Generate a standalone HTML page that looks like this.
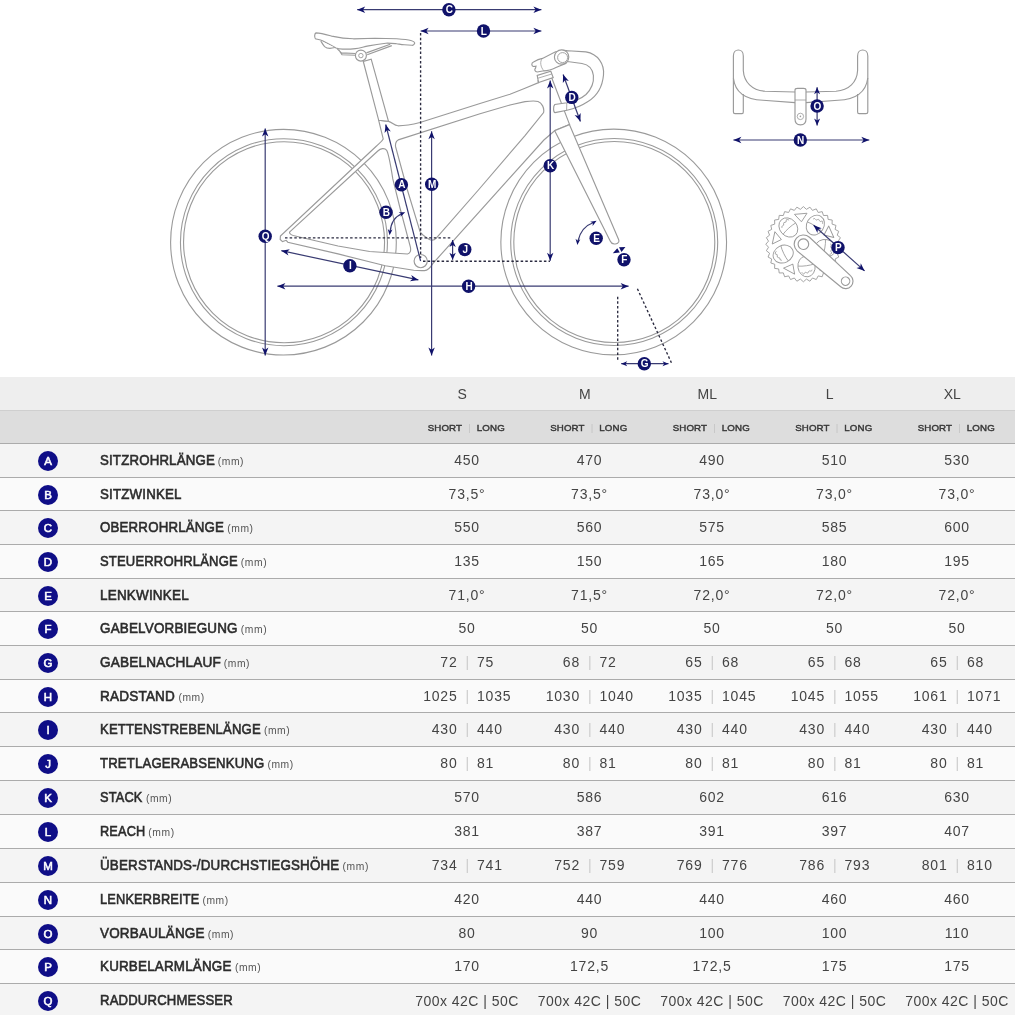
<!DOCTYPE html>
<html><head><meta charset="utf-8">
<style>
html,body{margin:0;padding:0;background:#fff;}
body{width:1015px;height:1015px;overflow:hidden;position:relative;font-family:"Liberation Sans",Arial,sans-serif;}
#bike{position:absolute;left:0;top:0;width:1015px;height:377px;}
.h1{position:absolute;left:0;top:377px;width:1015px;height:33px;background:#eeeeee;}
.h2{position:absolute;left:0;top:410px;width:1015px;background:#dddddd;border-top:1px solid #cfcfcf;box-sizing:border-box;height:33px;}
.sz{position:absolute;top:385px;width:122.5px;text-align:center;font-size:14px;color:#444;line-height:18px;}
.sl{position:absolute;top:421.5px;width:122.5px;text-align:center;font-size:9.7px;font-weight:normal;-webkit-text-stroke:0.45px #383838;color:#383838;letter-spacing:0.15px;line-height:12px;}
.sl .p{color:#c4c4c4;-webkit-text-stroke:0;font-weight:normal;margin:0 6px;}
.row{position:absolute;left:0;width:1015px;border-top:1px solid #ababab;box-sizing:border-box;}
.odd{background:#f4f4f4;}
.even{background:#fafafa;}
.dot{position:absolute;left:38px;top:7px;width:20px;height:20px;border-radius:50%;background:#0f0e87;color:#fff;font-size:11.5px;font-weight:normal;-webkit-text-stroke:0.55px #fff;text-align:center;line-height:20px;}
.lab{position:absolute;left:99.8px;top:7px;font-size:14.5px;font-weight:normal;-webkit-text-stroke:0.6px #2c2c2c;color:#2c2c2c;letter-spacing:0.2px;line-height:18px;white-space:nowrap;transform-origin:0 0;}
.mm{position:absolute;top:8.5px;font-size:10.3px;letter-spacing:0.6px;color:#555;line-height:18px;white-space:nowrap;}
.v{position:absolute;top:7px;letter-spacing:0.8px;width:122.5px;text-align:center;font-size:14px;color:#444;line-height:18px;white-space:nowrap;}
.v2{position:absolute;top:7px;letter-spacing:0.8px;width:122.5px;height:18px;font-size:14px;color:#444;line-height:18px;}
.v2 b{font-weight:normal;position:absolute;top:0;}
.v2 .a{right:70px;}
.v2 .c{left:72px;}
.v2 .p{position:absolute;left:60.5px;top:0;font-style:normal;color:#ccc;}
</style></head><body>
<svg id="bike" width="1015" height="377" viewBox="0 0 1015 377">
<g fill="none" stroke="#9a9a9a" stroke-width="1.1">
<circle cx="283.45" cy="242.2" r="112.85"/>
<circle cx="283.95" cy="242.2" r="103.5"/>
<circle cx="284.05" cy="242.2" r="100.5"/>
<circle cx="613.7" cy="242.0" r="112.85"/>
<circle cx="614.2" cy="242.0" r="103.5"/>
<circle cx="614.3000000000001" cy="242.0" r="100.5"/>
</g>
<path d="M378.7,120.3 L388.5,121.4 C392,122 394,125.5 398,125.8 C405,125.8 412,124.6 420,122.5 L480,103.5 L510,94.2 L525,88.2 L538.6,82.6 L538,80.8 L551.3,76.8 L569.6,124.6 L554.6,130.8 L543.9,140 L432.8,263.6 C430.5,267.5 428.5,270.4 424.5,270.6 C420,270.7 417,270.6 413.7,270.3 L385.3,265.7 L338,253.9 L287.8,242.2 L286.2,240.3 L282.5,241.6 L280.2,239.5 L280.4,236 L376.5,146 C379,143.5 382,141.5 383.2,138.9 Z M398.2,139.9 L480,113.8 L510,105 L525,101.6 C530,101 535,100.6 538,101.5 C542,103 544.5,108 543.6,112.5 L525,135.6 L478.4,190 L436.5,237.8 C434,240.5 431.5,240.6 429.5,239.5 C423,235.5 420.5,233 419.9,231.2 L407.4,190 L395.5,146.4 C395.3,143 396,141 398.2,139.9 Z M289.5,232.2 L377.8,151 C380.5,148.5 384.5,147.5 386.5,150.2 C388,152 389.5,158 392.8,178.9 L400,208 L410.4,247.2 C411,250.5 410.5,253.5 407.5,254 L369.6,251.5 L338,246 L295.2,236 C292,235.3 289.6,234.6 289.5,232.2 Z" fill="#fff" fill-rule="evenodd" stroke="#9a9a9a" stroke-width="1.15"/>
<circle cx="420.7" cy="261.1" r="6.6" fill="#fff" stroke="#9a9a9a" stroke-width="1.15"/>
<path d="M554.6,130.6 L610.2,241 C611.5,244.5 617,245 618.6,242.3 C619.2,241.2 619,240.3 618.6,239.4 L569.4,124.6 Z" fill="#fff" stroke="#9a9a9a" stroke-width="1.15"/>
<path d="M363.3,61.5 L378.7,120.3 L388.5,121.4 L371.2,59.2 Z" fill="#fff" stroke="#9a9a9a" stroke-width="1.15"/>
<path d="M366.4,52.9 L390.2,44.3 M367.2,54.8 L391.8,45.6" fill="none" stroke="#9a9a9a" stroke-width="1.15"/>
<path d="M316,32.9 C321,33.2 326,34.6 331.7,36.1 C339,37.6 346,38.6 353.4,38.8 L375,38.3 L396.7,38.8 C403,39.3 408,39.8 410.8,40.5 C413.5,41.2 415.2,42.5 414.6,43.6 C414,45 412.5,45.4 411.9,45.3 L404.3,44.8 C401,44.6 399,44 396.7,43.7 C393,43.4 389,43 385.9,43.2 C379,44 373,45 368.5,45.9 C363,47 359,48.2 355.5,48.6 C351,49.1 346,49.2 342.5,49.1 C340,49 337.5,48.6 336,48 C331,45.5 327,43 323,41 C320,39.8 317,39.3 315.4,38.8 C314.2,37 314.5,33.5 316,32.9 Z" fill="#fff" stroke="#9a9a9a" stroke-width="1.15"/>
<path d="M320.8,41 C322,43 323,45 324.6,46.6 C326.5,48.2 330,48.9 334.9,47.5" fill="#fff" stroke="#9a9a9a" stroke-width="1.15"/>
<path d="M337.1,48.6 L341.4,52.9 L355.5,53.5 M338.6,49.6 L342,54.8 L356,55.2" fill="none" stroke="#9a9a9a" stroke-width="1.15"/>
<circle cx="360.9" cy="55.6" r="5.5" fill="#fff" stroke="#9a9a9a" stroke-width="1.15"/>
<circle cx="360.9" cy="55.6" r="2.2" fill="#fff" stroke="#9a9a9a" stroke-width="0.9"/>
<path d="M538.6,82.6 L537.2,75.5 L550.8,71.2 L553.2,77.6 Z" fill="#fff" stroke="#9a9a9a" stroke-width="1.15"/>
<path d="M537.6,78.3 L551.8,74" fill="none" stroke="#9a9a9a" stroke-width="0.8"/>
<path d="M533.5,62 C531,63 531.5,66 533.5,66.5 L536,66.2 L535.5,68.3 C534,69.5 535,72 537.2,72 L544,70.8 C548,70.8 552,69.5 556,67.5 L566,63.4 L563,51.5 L555.5,51.8 L542.5,58.4 C539,59 536,60.5 533.5,62 Z" fill="#fff" stroke="#9a9a9a" stroke-width="1.15"/>
<path d="M542.5,58.4 C539.5,61 540.5,67.5 544,70.8" fill="none" stroke="#9a9a9a" stroke-width="0.8"/>
<path d="M558,51.5 C562,49.5 566,50.8 568,50.8 L585.9,51.9 C598,54 604.5,64 603.5,75 C602.5,86 597,96 588,101.5 C582,105.5 575,108.5 567,110.2 L555,112.6 C553.3,112.6 553,106 554.8,104.5 L567,102.8 C575,101 582,98 586,94.5 C591,89.5 594,82 593.4,75.5 C592.5,68.5 588,64.5 582,63.5 L567.4,61.5 C563,64.5 557,62.5 556,57.5 C555.5,55 556.5,52.5 558,51.5 Z" fill="#fff" stroke="#9a9a9a" stroke-width="1.15"/>
<circle cx="561.6" cy="57" r="7.2" fill="#fff" stroke="#9a9a9a" stroke-width="1.15"/>
<circle cx="562.6" cy="57.6" r="5" fill="#fff" stroke="#9a9a9a" stroke-width="0.9"/>
<path d="M566.8,103 L566.6,110.4" fill="none" stroke="#9a9a9a" stroke-width="0.8"/>
<path d="M733.4,56 C733.4,48 743.3,48 743.3,56 L743.3,70.5 C744,82 752,90.5 765,91.2 L795,92 L806,92 L836,91.2 C849,90.5 857,82 857.6,70.5 L857.6,56 C857.6,48 867.8,48 867.8,56 L867.8,78 C866,92 856,99.6 838,100.2 L806,102.6 L795,102.6 L763,100.2 C745,99.6 735,92 733.4,78 Z" fill="#fff" stroke="#9a9a9a" stroke-width="1.15"/>
<path d="M733.4,78 L733.4,112 C733.4,113.3 734,113.6 735,113.6 L742,113.6 C743,113.6 743.3,113 743.3,112 L743.3,94" fill="none" stroke="#9a9a9a" stroke-width="1.15"/>
<path d="M867.8,78 L867.8,112 C867.8,113.3 867,113.6 866,113.6 L859,113.6 C858,113.6 857.6,113 857.6,112 L857.6,94" fill="none" stroke="#9a9a9a" stroke-width="1.15"/>
<path d="M795,90 C795,88.5 796,88.3 797.5,88.3 L803.5,88.3 C805,88.3 806,88.5 806,90 L806,119 C806,123 803.5,124.8 800.5,124.8 C797.5,124.8 795,123 795,119 Z" fill="#fff" stroke="#9a9a9a" stroke-width="1.15"/>
<path d="M795,100 L806,100" fill="none" stroke="#9a9a9a" stroke-width="0.8"/>
<circle cx="800.4" cy="116.4" r="3.2" fill="#fff" stroke="#9a9a9a" stroke-width="0.8"/>
<circle cx="800.4" cy="116.4" r="0.8" fill="#9a9a9a"/>
<path d="M841.00,244.20 L838.27,247.25 L840.43,250.73 L837.21,253.26 L838.73,257.06 L835.12,258.99 L835.96,263.00 L832.07,264.28 L832.20,268.37 L828.15,268.95 L827.57,273.00 L823.48,272.87 L822.20,276.76 L818.19,275.92 L816.26,279.53 L812.46,278.01 L809.93,281.23 L806.45,279.07 L803.40,281.80 L800.35,279.07 L796.87,281.23 L794.34,278.01 L790.54,279.53 L788.61,275.92 L784.60,276.76 L783.32,272.87 L779.23,273.00 L778.65,268.95 L774.60,268.37 L774.73,264.28 L770.84,263.00 L771.68,258.99 L768.07,257.06 L769.59,253.26 L766.37,250.73 L768.53,247.25 L765.80,244.20 L768.53,241.15 L766.37,237.67 L769.59,235.14 L768.07,231.34 L771.68,229.41 L770.84,225.40 L774.73,224.12 L774.60,220.03 L778.65,219.45 L779.23,215.40 L783.32,215.53 L784.60,211.64 L788.61,212.48 L790.54,208.87 L794.34,210.39 L796.87,207.17 L800.35,209.33 L803.40,206.60 L806.45,209.33 L809.93,207.17 L812.46,210.39 L816.26,208.87 L818.19,212.48 L822.20,211.64 L823.48,215.53 L827.57,215.40 L828.15,219.45 L832.20,220.03 L832.07,224.12 L835.96,225.40 L835.12,229.41 L838.73,231.34 L837.21,235.14 L840.43,237.67 L838.27,241.15 Z" fill="#fff" stroke="#9a9a9a" stroke-width="0.9" stroke-linejoin="round"/>
<g transform="translate(788.34 227.48) rotate(-42)"><ellipse cx="0" cy="0" rx="8.6" ry="10.4" fill="none" stroke="#9a9a9a" stroke-width="0.9"/><path d="M-8.2,1.5 C-4,0.5 4,0.5 8.2,1.5" fill="none" stroke="#9a9a9a" stroke-width="0.8"/><path d="M-5,-4 C-4,-7 -2,-3 -1,-6 C0,-8 2,-4 3,-6.5 C4,-8 5,-6 5.5,-5" fill="none" stroke="#9a9a9a" stroke-width="0.8"/></g>
<g transform="translate(815.32 225.12) rotate(32)"><ellipse cx="0" cy="0" rx="8.6" ry="10.4" fill="none" stroke="#9a9a9a" stroke-width="0.9"/><path d="M-8.2,1.5 C-4,0.5 4,0.5 8.2,1.5" fill="none" stroke="#9a9a9a" stroke-width="0.8"/><path d="M-5,-4 C-4,-7 -2,-3 -1,-6 C0,-8 2,-4 3,-6.5 C4,-8 5,-6 5.5,-5" fill="none" stroke="#9a9a9a" stroke-width="0.8"/></g>
<g transform="translate(825.56 248.11) rotate(100)"><ellipse cx="0" cy="0" rx="8.6" ry="10.4" fill="none" stroke="#9a9a9a" stroke-width="0.9"/><path d="M-8.2,1.5 C-4,0.5 4,0.5 8.2,1.5" fill="none" stroke="#9a9a9a" stroke-width="0.8"/><path d="M-5,-4 C-4,-7 -2,-3 -1,-6 C0,-8 2,-4 3,-6.5 C4,-8 5,-6 5.5,-5" fill="none" stroke="#9a9a9a" stroke-width="0.8"/></g>
<g transform="translate(806.53 266.48) rotate(172)"><ellipse cx="0" cy="0" rx="8.6" ry="10.4" fill="none" stroke="#9a9a9a" stroke-width="0.9"/><path d="M-8.2,1.5 C-4,0.5 4,0.5 8.2,1.5" fill="none" stroke="#9a9a9a" stroke-width="0.8"/><path d="M-5,-4 C-4,-7 -2,-3 -1,-6 C0,-8 2,-4 3,-6.5 C4,-8 5,-6 5.5,-5" fill="none" stroke="#9a9a9a" stroke-width="0.8"/></g>
<g transform="translate(783.18 254.06) rotate(244)"><ellipse cx="0" cy="0" rx="8.6" ry="10.4" fill="none" stroke="#9a9a9a" stroke-width="0.9"/><path d="M-8.2,1.5 C-4,0.5 4,0.5 8.2,1.5" fill="none" stroke="#9a9a9a" stroke-width="0.8"/><path d="M-5,-4 C-4,-7 -2,-3 -1,-6 C0,-8 2,-4 3,-6.5 C4,-8 5,-6 5.5,-5" fill="none" stroke="#9a9a9a" stroke-width="0.8"/></g>
<path d="M-6.3,-3.5 L6.3,-3.5 L0,4.5 Z" transform="translate(801.05 217.30) rotate(-5)" fill="none" stroke="#9a9a9a" stroke-width="0.9" stroke-linejoin="round"/>
<path d="M-6.3,-3.5 L6.3,-3.5 L0,4.5 Z" transform="translate(828.07 233.22) rotate(66)" fill="none" stroke="#9a9a9a" stroke-width="0.9" stroke-linejoin="round"/>
<path d="M-6.3,-3.5 L6.3,-3.5 L0,4.5 Z" transform="translate(822.16 263.62) rotate(136)" fill="none" stroke="#9a9a9a" stroke-width="0.9" stroke-linejoin="round"/>
<path d="M-6.3,-3.5 L6.3,-3.5 L0,4.5 Z" transform="translate(790.72 268.04) rotate(208)" fill="none" stroke="#9a9a9a" stroke-width="0.9" stroke-linejoin="round"/>
<path d="M-6.3,-3.5 L6.3,-3.5 L0,4.5 Z" transform="translate(776.99 238.59) rotate(282)" fill="none" stroke="#9a9a9a" stroke-width="0.9" stroke-linejoin="round"/>
<g transform="translate(803.4 244.2) rotate(41.24)"><path d="M0,-9.2 L56.1,-7.4 A7.4,7.4 0 0 1 56.1,7.4 L0,9.2 A9.2,9.2 0 0 1 0,-9.2 Z" fill="#fff" stroke="#9a9a9a" stroke-width="1.15"/><circle cx="0" cy="0" r="5.3" fill="#fff" stroke="#9a9a9a" stroke-width="1.15"/><circle cx="56.1" cy="0" r="4.2" fill="#fff" stroke="#9a9a9a" stroke-width="1.15"/></g>
<line x1="357.2" y1="9.7" x2="541.4" y2="9.7" stroke="#393b72" stroke-width="1.2"/><path d="M357.20,9.70 L365.20,6.50 L362.96,9.70 L365.20,12.90 Z" fill="#10126a"/><path d="M541.40,9.70 L533.40,12.90 L535.64,9.70 L533.40,6.50 Z" fill="#10126a"/>
<circle cx="448.9" cy="9.7" r="6.7" fill="#10126a"/><text x="449.29999999999995" y="13.2" text-anchor="middle" font-family="Liberation Sans, Arial, sans-serif" font-weight="bold" font-size="10" fill="#fff">C</text>
<line x1="420.6" y1="31" x2="541.4" y2="31" stroke="#393b72" stroke-width="1.2"/><path d="M420.60,31.00 L428.60,27.80 L426.36,31.00 L428.60,34.20 Z" fill="#10126a"/><path d="M541.40,31.00 L533.40,34.20 L535.64,31.00 L533.40,27.80 Z" fill="#10126a"/>
<circle cx="483.5" cy="31" r="6.7" fill="#10126a"/><text x="483.9" y="34.5" text-anchor="middle" font-family="Liberation Sans, Arial, sans-serif" font-weight="bold" font-size="10" fill="#fff">L</text>
<line x1="420.6" y1="33" x2="420.6" y2="258" stroke="#2b2b40" stroke-width="1.35" stroke-dasharray="2.5 2.15"/>
<line x1="420.6" y1="261" x2="385.7" y2="124.5" stroke="#393b72" stroke-width="1.2"/><path d="M385.70,124.50 L390.78,131.46 L387.13,130.08 L384.58,133.04 Z" fill="#10126a"/>
<circle cx="401.4" cy="184.8" r="6.7" fill="#10126a"/><text x="401.79999999999995" y="188.3" text-anchor="middle" font-family="Liberation Sans, Arial, sans-serif" font-weight="bold" font-size="10" fill="#fff">A</text>
<line x1="431.6" y1="131.2" x2="431.6" y2="355.5" stroke="#393b72" stroke-width="1.2"/><path d="M431.60,131.20 L434.80,139.20 L431.60,136.96 L428.40,139.20 Z" fill="#10126a"/><path d="M431.60,355.50 L428.40,347.50 L431.60,349.74 L434.80,347.50 Z" fill="#10126a"/>
<circle cx="431.7" cy="184.3" r="6.7" fill="#10126a"/><text x="432.09999999999997" y="187.8" text-anchor="middle" font-family="Liberation Sans, Arial, sans-serif" font-weight="bold" font-size="10" fill="#fff">M</text>
<path d="M390.2,232 Q391,218 402.5,213.5" fill="none" stroke="#393b72" stroke-width="1.3"/>
<path d="M389.60,235.20 L387.73,229.01 L389.98,230.90 L392.51,229.43 Z" fill="#10126a"/>
<path d="M405.20,212.30 L400.54,216.77 L401.19,213.92 L398.74,212.32 Z" fill="#10126a"/>
<circle cx="386" cy="212.2" r="6.7" fill="#10126a"/><text x="386.4" y="215.7" text-anchor="middle" font-family="Liberation Sans, Arial, sans-serif" font-weight="bold" font-size="10" fill="#fff">B</text>
<line x1="285" y1="237.8" x2="452.4" y2="237.8" stroke="#2b2b40" stroke-width="1.35" stroke-dasharray="2.5 2.15"/>
<line x1="452.6" y1="240.0" x2="452.6" y2="259.8" stroke="#393b72" stroke-width="1.2"/><path d="M452.60,240.00 L455.80,247.00 L452.60,245.04 L449.40,247.00 Z" fill="#10126a"/><path d="M452.60,259.80 L449.40,252.80 L452.60,254.76 L455.80,252.80 Z" fill="#10126a"/>
<circle cx="464.8" cy="249.6" r="6.7" fill="#10126a"/><text x="465.2" y="253.1" text-anchor="middle" font-family="Liberation Sans, Arial, sans-serif" font-weight="bold" font-size="10" fill="#fff">J</text>
<line x1="423" y1="261.2" x2="550" y2="261.2" stroke="#2b2b40" stroke-width="1.35" stroke-dasharray="2.5 2.15"/>
<line x1="550.2" y1="80.6" x2="550.2" y2="260.8" stroke="#393b72" stroke-width="1.2"/><path d="M550.20,80.60 L553.40,88.60 L550.20,86.36 L547.00,88.60 Z" fill="#10126a"/><path d="M550.20,260.80 L547.00,252.80 L550.20,255.04 L553.40,252.80 Z" fill="#10126a"/>
<circle cx="550.2" cy="165.7" r="6.7" fill="#10126a"/><text x="550.6" y="169.2" text-anchor="middle" font-family="Liberation Sans, Arial, sans-serif" font-weight="bold" font-size="10" fill="#fff">K</text>
<line x1="563.1" y1="74.5" x2="580.4" y2="121.5" stroke="#393b72" stroke-width="1.2"/><path d="M563.10,74.50 L568.87,80.90 L565.09,79.91 L562.86,83.11 Z" fill="#10126a"/><path d="M580.40,121.50 L574.63,115.10 L578.41,116.09 L580.64,112.89 Z" fill="#10126a"/>
<circle cx="571.8" cy="97.4" r="6.7" fill="#10126a"/><text x="572.1999999999999" y="100.9" text-anchor="middle" font-family="Liberation Sans, Arial, sans-serif" font-weight="bold" font-size="10" fill="#fff">D</text>
<path d="M578,241 Q581,227 593.5,222.5" fill="none" stroke="#393b72" stroke-width="1.3"/>
<path d="M577.40,245.00 L575.53,238.81 L577.78,240.70 L580.31,239.23 Z" fill="#10126a"/>
<path d="M596.60,220.80 L592.60,225.88 L592.86,222.96 L590.20,221.72 Z" fill="#10126a"/>
<circle cx="596.2" cy="238.2" r="6.7" fill="#10126a"/><text x="596.6" y="241.7" text-anchor="middle" font-family="Liberation Sans, Arial, sans-serif" font-weight="bold" font-size="10" fill="#fff">E</text>
<path d="M612.8,253.2 L617.3,248.2 L619.8,252.6 Z M619,247.3 L625.4,247.1 L621.5,251.9 Z" fill="#10126a"/>
<circle cx="624" cy="259.8" r="6.7" fill="#10126a"/><text x="624.4" y="263.3" text-anchor="middle" font-family="Liberation Sans, Arial, sans-serif" font-weight="bold" font-size="10" fill="#fff">F</text>
<line x1="617.7" y1="296.7" x2="617.7" y2="360.2" stroke="#2b2b40" stroke-width="1.35" stroke-dasharray="2.5 2.15"/>
<line x1="637.4" y1="288.8" x2="671.4" y2="362.7" stroke="#2b2b40" stroke-width="1.35" stroke-dasharray="2.5 2.15"/>
<line x1="621.2" y1="363.7" x2="668.5" y2="363.7" stroke="#393b72" stroke-width="1.2"/><path d="M621.20,363.70 L627.20,361.20 L625.52,363.70 L627.20,366.20 Z" fill="#10126a"/><path d="M668.50,363.70 L662.50,366.20 L664.18,363.70 L662.50,361.20 Z" fill="#10126a"/>
<circle cx="644.3" cy="363.7" r="6.7" fill="#10126a"/><text x="644.6999999999999" y="367.2" text-anchor="middle" font-family="Liberation Sans, Arial, sans-serif" font-weight="bold" font-size="10" fill="#fff">G</text>
<line x1="277.4" y1="286.2" x2="628.6" y2="286.2" stroke="#393b72" stroke-width="1.2"/><path d="M277.40,286.20 L285.40,283.00 L283.16,286.20 L285.40,289.40 Z" fill="#10126a"/><path d="M628.60,286.20 L620.60,289.40 L622.84,286.20 L620.60,283.00 Z" fill="#10126a"/>
<circle cx="468.6" cy="286.2" r="6.7" fill="#10126a"/><text x="469.0" y="289.7" text-anchor="middle" font-family="Liberation Sans, Arial, sans-serif" font-weight="bold" font-size="10" fill="#fff">H</text>
<line x1="281.3" y1="250.7" x2="418.4" y2="279.9" stroke="#393b72" stroke-width="1.2"/><path d="M281.30,250.70 L289.79,249.24 L286.93,251.90 L288.46,255.50 Z" fill="#10126a"/><path d="M418.40,279.90 L409.91,281.36 L412.77,278.70 L411.24,275.10 Z" fill="#10126a"/>
<circle cx="349.9" cy="265.7" r="6.7" fill="#10126a"/><text x="350.29999999999995" y="269.2" text-anchor="middle" font-family="Liberation Sans, Arial, sans-serif" font-weight="bold" font-size="10" fill="#fff">I</text>
<line x1="265.2" y1="128.5" x2="265.2" y2="355.6" stroke="#393b72" stroke-width="1.2"/><path d="M265.20,128.50 L268.40,136.50 L265.20,134.26 L262.00,136.50 Z" fill="#10126a"/><path d="M265.20,355.60 L262.00,347.60 L265.20,349.84 L268.40,347.60 Z" fill="#10126a"/>
<circle cx="265.2" cy="236.3" r="6.7" fill="#10126a"/><text x="265.59999999999997" y="239.8" text-anchor="middle" font-family="Liberation Sans, Arial, sans-serif" font-weight="bold" font-size="10" fill="#fff">Q</text>
<line x1="733.4" y1="140" x2="869.3" y2="140" stroke="#393b72" stroke-width="1.2"/><path d="M733.40,140.00 L741.40,136.80 L739.16,140.00 L741.40,143.20 Z" fill="#10126a"/><path d="M869.30,140.00 L861.30,143.20 L863.54,140.00 L861.30,136.80 Z" fill="#10126a"/>
<circle cx="800.3" cy="140" r="6.7" fill="#10126a"/><text x="800.6999999999999" y="143.5" text-anchor="middle" font-family="Liberation Sans, Arial, sans-serif" font-weight="bold" font-size="10" fill="#fff">N</text>
<line x1="817.1" y1="87.3" x2="817.1" y2="125.5" stroke="#393b72" stroke-width="1.2"/><path d="M817.10,87.30 L820.10,94.30 L817.10,92.34 L814.10,94.30 Z" fill="#10126a"/><path d="M817.10,125.50 L814.10,118.50 L817.10,120.46 L820.10,118.50 Z" fill="#10126a"/>
<circle cx="817.1" cy="106" r="6.7" fill="#10126a"/><text x="817.5" y="109.5" text-anchor="middle" font-family="Liberation Sans, Arial, sans-serif" font-weight="bold" font-size="10" fill="#fff">O</text>
<line x1="813.6" y1="225.3" x2="864.6" y2="270.9" stroke="#393b72" stroke-width="1.2"/><path d="M813.60,225.30 L821.70,228.25 L817.89,229.14 L817.43,233.02 Z" fill="#10126a"/><path d="M864.60,270.90 L856.50,267.95 L860.31,267.06 L860.77,263.18 Z" fill="#10126a"/>
<circle cx="838" cy="247.6" r="6.7" fill="#10126a"/><text x="838.4" y="251.1" text-anchor="middle" font-family="Liberation Sans, Arial, sans-serif" font-weight="bold" font-size="10" fill="#fff">P</text>
</svg>
<div class="h1"></div><div class="h2"></div>
<div class="sz" style="left:401.00px">S</div>
<div class="sl" style="left:405.00px">SHORT<span class="p">|</span>LONG</div>
<div class="sz" style="left:523.50px">M</div>
<div class="sl" style="left:527.50px">SHORT<span class="p">|</span>LONG</div>
<div class="sz" style="left:646.00px">ML</div>
<div class="sl" style="left:650.00px">SHORT<span class="p">|</span>LONG</div>
<div class="sz" style="left:768.50px">L</div>
<div class="sl" style="left:772.50px">SHORT<span class="p">|</span>LONG</div>
<div class="sz" style="left:891.00px">XL</div>
<div class="sl" style="left:895.00px">SHORT<span class="p">|</span>LONG</div>
<div class="row odd" style="top:443px;height:34px">
<span class="dot">A</span>
<span class="lab" style="transform:scaleX(0.913)">SITZROHRLÄNGE</span>
<span class="mm" style="left:217.7px">(mm)</span>
<span class="v" style="left:405.80px">450</span>
<span class="v" style="left:528.30px">470</span>
<span class="v" style="left:650.80px">490</span>
<span class="v" style="left:773.30px">510</span>
<span class="v" style="left:895.80px">530</span>
</div>
<div class="row even" style="top:477px;height:33px">
<span class="dot">B</span>
<span class="lab" style="transform:scaleX(0.917)">SITZWINKEL</span>
<span class="v" style="left:405.80px">73,5°</span>
<span class="v" style="left:528.30px">73,5°</span>
<span class="v" style="left:650.80px">73,0°</span>
<span class="v" style="left:773.30px">73,0°</span>
<span class="v" style="left:895.80px">73,0°</span>
</div>
<div class="row odd" style="top:510px;height:34px">
<span class="dot">C</span>
<span class="lab" style="transform:scaleX(0.916)">OBERROHRLÄNGE</span>
<span class="mm" style="left:227.2px">(mm)</span>
<span class="v" style="left:405.80px">550</span>
<span class="v" style="left:528.30px">560</span>
<span class="v" style="left:650.80px">575</span>
<span class="v" style="left:773.30px">585</span>
<span class="v" style="left:895.80px">600</span>
</div>
<div class="row even" style="top:544px;height:34px">
<span class="dot">D</span>
<span class="lab" style="transform:scaleX(0.897)">STEUERROHRLÄNGE</span>
<span class="mm" style="left:240.8px">(mm)</span>
<span class="v" style="left:405.80px">135</span>
<span class="v" style="left:528.30px">150</span>
<span class="v" style="left:650.80px">165</span>
<span class="v" style="left:773.30px">180</span>
<span class="v" style="left:895.80px">195</span>
</div>
<div class="row odd" style="top:578px;height:33px">
<span class="dot">E</span>
<span class="lab" style="transform:scaleX(0.931)">LENKWINKEL</span>
<span class="v" style="left:405.80px">71,0°</span>
<span class="v" style="left:528.30px">71,5°</span>
<span class="v" style="left:650.80px">72,0°</span>
<span class="v" style="left:773.30px">72,0°</span>
<span class="v" style="left:895.80px">72,0°</span>
</div>
<div class="row even" style="top:611px;height:34px">
<span class="dot">F</span>
<span class="lab" style="transform:scaleX(0.927)">GABELVORBIEGUNG</span>
<span class="mm" style="left:240.8px">(mm)</span>
<span class="v" style="left:405.80px">50</span>
<span class="v" style="left:528.30px">50</span>
<span class="v" style="left:650.80px">50</span>
<span class="v" style="left:773.30px">50</span>
<span class="v" style="left:895.80px">50</span>
</div>
<div class="row odd" style="top:645px;height:34px">
<span class="dot">G</span>
<span class="lab" style="transform:scaleX(0.938)">GABELNACHLAUF</span>
<span class="mm" style="left:223.7px">(mm)</span>
<span class="v2" style="left:405.00px"><b class="a">72</b><i class="p">|</i><b class="c">75</b></span>
<span class="v2" style="left:527.50px"><b class="a">68</b><i class="p">|</i><b class="c">72</b></span>
<span class="v2" style="left:650.00px"><b class="a">65</b><i class="p">|</i><b class="c">68</b></span>
<span class="v2" style="left:772.50px"><b class="a">65</b><i class="p">|</i><b class="c">68</b></span>
<span class="v2" style="left:895.00px"><b class="a">65</b><i class="p">|</i><b class="c">68</b></span>
</div>
<div class="row even" style="top:679px;height:33px">
<span class="dot">H</span>
<span class="lab" style="transform:scaleX(0.935)">RADSTAND</span>
<span class="mm" style="left:178.4px">(mm)</span>
<span class="v2" style="left:405.00px"><b class="a">1025</b><i class="p">|</i><b class="c">1035</b></span>
<span class="v2" style="left:527.50px"><b class="a">1030</b><i class="p">|</i><b class="c">1040</b></span>
<span class="v2" style="left:650.00px"><b class="a">1035</b><i class="p">|</i><b class="c">1045</b></span>
<span class="v2" style="left:772.50px"><b class="a">1045</b><i class="p">|</i><b class="c">1055</b></span>
<span class="v2" style="left:895.00px"><b class="a">1061</b><i class="p">|</i><b class="c">1071</b></span>
</div>
<div class="row odd" style="top:712px;height:34px">
<span class="dot">I</span>
<span class="lab" style="transform:scaleX(0.901)">KETTENSTREBENLÄNGE</span>
<span class="mm" style="left:263.9px">(mm)</span>
<span class="v2" style="left:405.00px"><b class="a">430</b><i class="p">|</i><b class="c">440</b></span>
<span class="v2" style="left:527.50px"><b class="a">430</b><i class="p">|</i><b class="c">440</b></span>
<span class="v2" style="left:650.00px"><b class="a">430</b><i class="p">|</i><b class="c">440</b></span>
<span class="v2" style="left:772.50px"><b class="a">430</b><i class="p">|</i><b class="c">440</b></span>
<span class="v2" style="left:895.00px"><b class="a">430</b><i class="p">|</i><b class="c">440</b></span>
</div>
<div class="row even" style="top:746px;height:34px">
<span class="dot">J</span>
<span class="lab" style="transform:scaleX(0.905)">TRETLAGERABSENKUNG</span>
<span class="mm" style="left:267.4px">(mm)</span>
<span class="v2" style="left:405.00px"><b class="a">80</b><i class="p">|</i><b class="c">81</b></span>
<span class="v2" style="left:527.50px"><b class="a">80</b><i class="p">|</i><b class="c">81</b></span>
<span class="v2" style="left:650.00px"><b class="a">80</b><i class="p">|</i><b class="c">81</b></span>
<span class="v2" style="left:772.50px"><b class="a">80</b><i class="p">|</i><b class="c">81</b></span>
<span class="v2" style="left:895.00px"><b class="a">80</b><i class="p">|</i><b class="c">81</b></span>
</div>
<div class="row odd" style="top:780px;height:34px">
<span class="dot">K</span>
<span class="lab" style="transform:scaleX(0.882)">STACK</span>
<span class="mm" style="left:145.9px">(mm)</span>
<span class="v" style="left:405.80px">570</span>
<span class="v" style="left:528.30px">586</span>
<span class="v" style="left:650.80px">602</span>
<span class="v" style="left:773.30px">616</span>
<span class="v" style="left:895.80px">630</span>
</div>
<div class="row even" style="top:814px;height:34px">
<span class="dot">L</span>
<span class="lab" style="transform:scaleX(0.877)">REACH</span>
<span class="mm" style="left:148.3px">(mm)</span>
<span class="v" style="left:405.80px">381</span>
<span class="v" style="left:528.30px">387</span>
<span class="v" style="left:650.80px">391</span>
<span class="v" style="left:773.30px">397</span>
<span class="v" style="left:895.80px">407</span>
</div>
<div class="row odd" style="top:848px;height:34px">
<span class="dot">M</span>
<span class="lab" style="transform:scaleX(0.922)">ÜBERSTANDS-/DURCHSTIEGSHÖHE</span>
<span class="mm" style="left:342.5px">(mm)</span>
<span class="v2" style="left:405.00px"><b class="a">734</b><i class="p">|</i><b class="c">741</b></span>
<span class="v2" style="left:527.50px"><b class="a">752</b><i class="p">|</i><b class="c">759</b></span>
<span class="v2" style="left:650.00px"><b class="a">769</b><i class="p">|</i><b class="c">776</b></span>
<span class="v2" style="left:772.50px"><b class="a">786</b><i class="p">|</i><b class="c">793</b></span>
<span class="v2" style="left:895.00px"><b class="a">801</b><i class="p">|</i><b class="c">810</b></span>
</div>
<div class="row even" style="top:882px;height:34px">
<span class="dot">N</span>
<span class="lab" style="transform:scaleX(0.882)">LENKERBREITE</span>
<span class="mm" style="left:202.4px">(mm)</span>
<span class="v" style="left:405.80px">420</span>
<span class="v" style="left:528.30px">440</span>
<span class="v" style="left:650.80px">440</span>
<span class="v" style="left:773.30px">460</span>
<span class="v" style="left:895.80px">460</span>
</div>
<div class="row odd" style="top:916px;height:33px">
<span class="dot">O</span>
<span class="lab" style="transform:scaleX(0.930)">VORBAULÄNGE</span>
<span class="mm" style="left:207.7px">(mm)</span>
<span class="v" style="left:405.80px">80</span>
<span class="v" style="left:528.30px">90</span>
<span class="v" style="left:650.80px">100</span>
<span class="v" style="left:773.30px">100</span>
<span class="v" style="left:895.80px">110</span>
</div>
<div class="row even" style="top:949px;height:34px">
<span class="dot">P</span>
<span class="lab" style="transform:scaleX(0.925)">KURBELARMLÄNGE</span>
<span class="mm" style="left:234.9px">(mm)</span>
<span class="v" style="left:405.80px">170</span>
<span class="v" style="left:528.30px">172,5</span>
<span class="v" style="left:650.80px">172,5</span>
<span class="v" style="left:773.30px">175</span>
<span class="v" style="left:895.80px">175</span>
</div>
<div class="row odd" style="top:983px;height:33px">
<span class="dot">Q</span>
<span class="lab" style="transform:scaleX(0.904)">RADDURCHMESSER</span>
<span class="v" style="left:405.80px;letter-spacing:0.48px;top:8px">700x 42C | 50C</span>
<span class="v" style="left:528.30px;letter-spacing:0.48px;top:8px">700x 42C | 50C</span>
<span class="v" style="left:650.80px;letter-spacing:0.48px;top:8px">700x 42C | 50C</span>
<span class="v" style="left:773.30px;letter-spacing:0.48px;top:8px">700x 42C | 50C</span>
<span class="v" style="left:895.80px;letter-spacing:0.48px;top:8px">700x 42C | 50C</span>
</div>
</body></html>
